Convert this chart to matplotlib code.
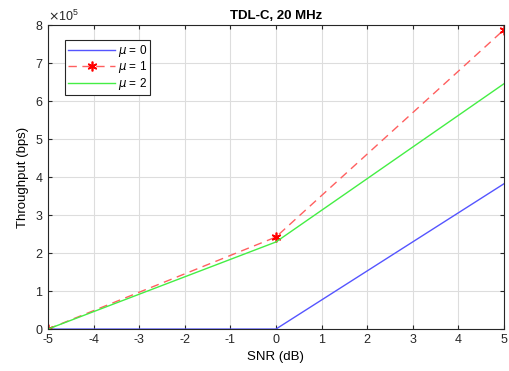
import matplotlib.pyplot as plt
from matplotlib.ticker import ScalarFormatter

plt.rcParams['font.family'] = ['Liberation Sans', 'DejaVu Sans']
plt.rcParams['font.size'] = 9
plt.rcParams['axes.unicode_minus'] = False

# Datos
snr_db = [-5, 0, 5]
thr_mu0 = [0, 0, 3.82e5]
thr_mu1 = [0, 2.42e5, 7.87e5]
thr_mu2 = [0, 2.29e5, 6.45e5]

fig = plt.figure(figsize=(5.1, 3.71), dpi=100)
ax = fig.add_axes([0.094, 0.113, 0.894, 0.82])

ax.plot(snr_db, thr_mu0, color='#5555ff', lw=1.0, label=r'$\mu$ = 0')
ax.plot(snr_db, thr_mu1, color='#ff5f5f', lw=1.0, ls=(0, (6, 4)),
        marker=(6, 2, 0), markersize=7, markeredgecolor='red', markeredgewidth=1.2,
        label=r'$\mu$ = 1')
ax.plot(snr_db, thr_mu2, color='#44ee44', lw=1.0, label=r'$\mu$ = 2')

ax.set_xlim(-5, 5)
ax.set_ylim(0, 8e5)
ax.set_xticks(range(-5, 6))
ax.set_yticks([i * 1e5 for i in range(9)])

fmt = ScalarFormatter(useMathText=True)
fmt.set_powerlimits((0, 0))
ax.yaxis.set_major_formatter(fmt)
ax.yaxis.get_offset_text().set_fontsize(9)

ax.grid(True, color='#dddddd', lw=0.8)
ax.set_axisbelow(True)
ax.tick_params(direction='in', top=True, right=True, length=3, colors='#262626')
for s in ax.spines.values():
    s.set_color('#262626')

ax.set_xlabel('SNR (dB)', fontsize=9.5)
ax.set_ylabel('Throughput (bps)', fontsize=9.5)
ax.set_title('TDL-C, 20 MHz', fontsize=9.5, fontweight='bold', pad=4)

leg = ax.legend(loc='upper left', bbox_to_anchor=(0.025, 0.97), fancybox=False,
                framealpha=1, edgecolor='#262626', handlelength=4.0,
                borderpad=0.25, labelspacing=0.05, handletextpad=0.2, fontsize=8.5)
leg.get_frame().set_linewidth(0.8)

fig.savefig('out.png', dpi=100)
